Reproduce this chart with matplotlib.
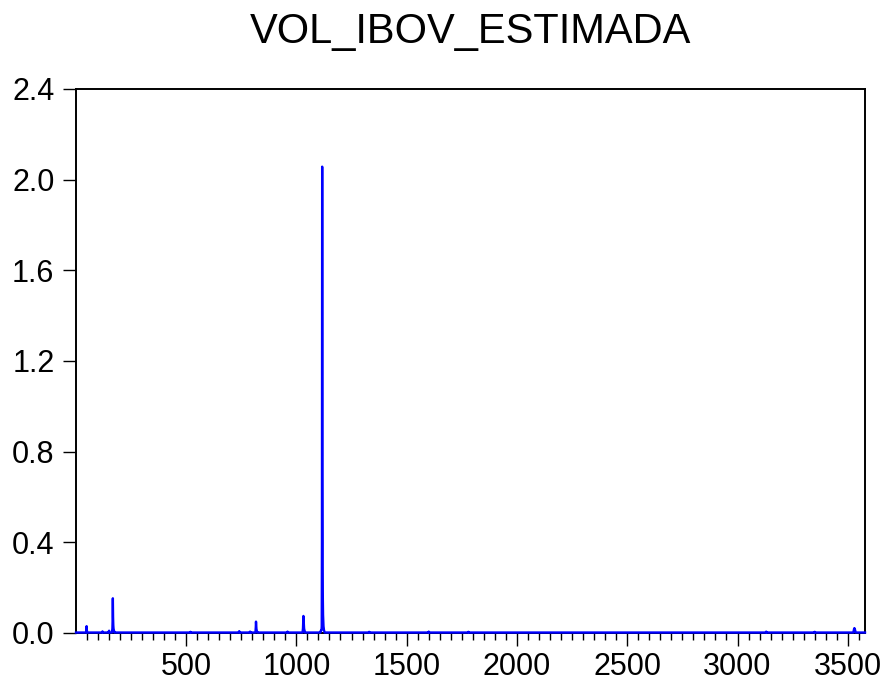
import numpy as np
import matplotlib.pyplot as plt
from matplotlib.ticker import MultipleLocator

plt.rcParams["font.family"] = ["Liberation Sans", "DejaVu Sans"]

n_obs = 3578
base_level = 0.002

bump_starts = [48, 120, 150, 165, 520, 740, 790, 815, 960, 1029, 1110,
               1330, 1600, 1780, 3130, 3350, 3526]
bump_values = [
    [0.004, 0.030, 0.012, 0.006],
    [0.005, 0.007, 0.004],
    [0.008, 0.010, 0.006],
    [0.010, 0.020, 0.060, 0.153, 0.070, 0.035, 0.020, 0.014, 0.010, 0.008],
    [0.005, 0.004],
    [0.006, 0.008, 0.005, 0.004],
    [0.006, 0.005],
    [0.010, 0.025, 0.050, 0.030, 0.018, 0.012, 0.008, 0.006],
    [0.006, 0.004],
    [0.010, 0.020, 0.045, 0.075, 0.055, 0.035, 0.020, 0.014, 0.010, 0.008],
    [0.008, 0.010, 0.012, 0.010, 0.012, 0.030, 0.400, 2.057, 0.700, 0.300,
     0.150, 0.080, 0.050, 0.030, 0.020, 0.014, 0.010, 0.008],
    [0.005, 0.004],
    [0.006, 0.004],
    [0.005, 0.004],
    [0.006, 0.004],
    [0.005, 0.004],
    [0.006, 0.010, 0.016, 0.020, 0.018, 0.020, 0.016, 0.012, 0.008, 0.006],
]

obs = np.arange(1, n_obs + 1)
vol = np.full(n_obs, base_level)
for start, vals in zip(bump_starts, bump_values):
    vol[start - 1:start - 1 + len(vals)] = vals

fig = plt.figure(figsize=(8.88, 6.84), dpi=100)
ax = fig.add_axes([0.0856, 0.0746, 0.8885, 0.7954])
ax.plot(obs, vol, color="#0000ff", linewidth=1.7, zorder=3, clip_on=False)

ax.set_xlim(1, n_obs)
ax.set_ylim(0, 2.4)
ax.yaxis.set_major_locator(MultipleLocator(0.4))
ax.yaxis.set_major_formatter(plt.FormatStrFormatter("%.1f"))
ax.xaxis.set_major_locator(MultipleLocator(500))
ax.xaxis.set_minor_locator(MultipleLocator(50))
ax.set_xticks([500, 1000, 1500, 2000, 2500, 3000, 3500])

ax.tick_params(axis="y", direction="out", length=9.5, width=1.0, pad=6, labelsize=22)
ax.tick_params(axis="x", which="major", direction="out", length=9, width=1.0,
               pad=5, labelsize=22)
ax.tick_params(axis="x", which="minor", direction="out", length=5, width=1.0)
for sp in ax.spines.values():
    sp.set_linewidth(1.4)

ax.set_title("VOL_IBOV_ESTIMADA", fontsize=30, pad=33)

fig.savefig("out.png", dpi=100)
plt.close(fig)
